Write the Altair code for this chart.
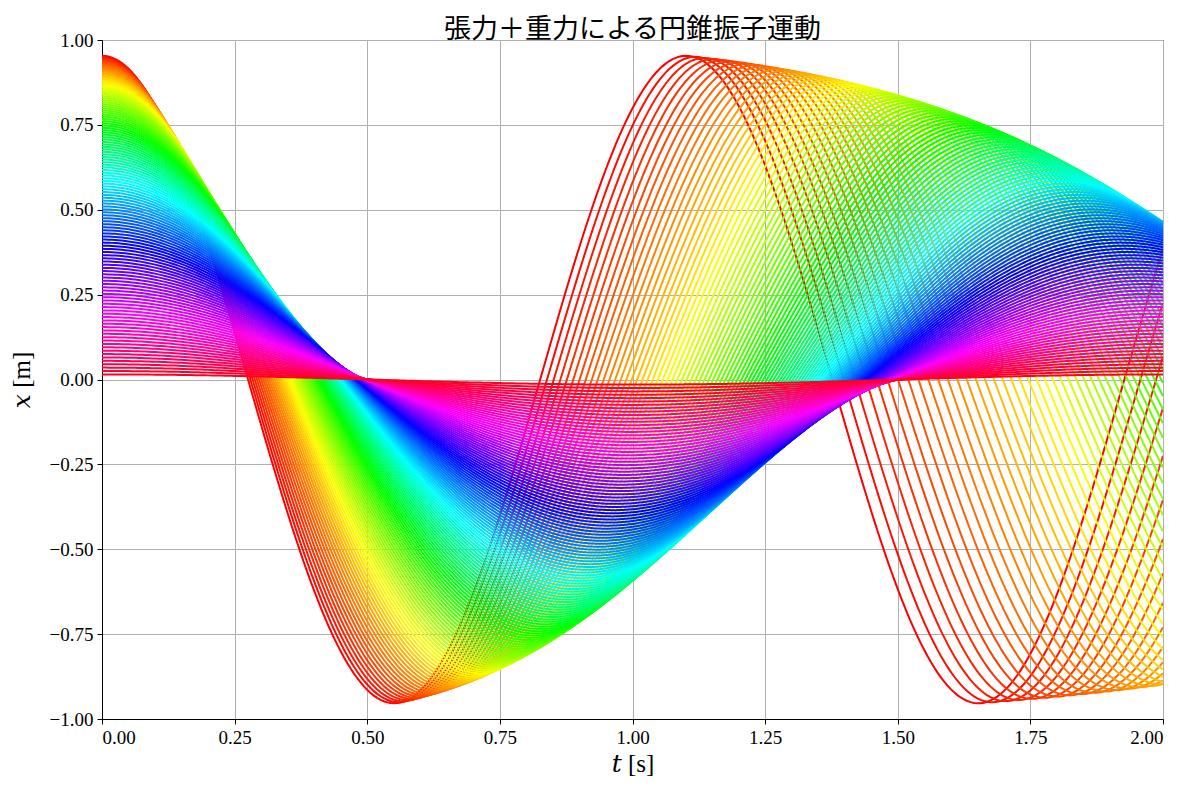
import numpy as np
import pandas as pd
import altair as alt

alt.data_transformers.disable_max_rows()

# Release angles of the conical pendulums (radians)
release_angles_rad = [
    1.265, 1.255, 1.245, 1.235, 1.225, 1.215, 1.205, 1.195, 1.185, 1.175,
    1.165, 1.155, 1.145, 1.135, 1.125, 1.115, 1.105, 1.095, 1.085, 1.075,
    1.065, 1.055, 1.045, 1.035, 1.025, 1.015, 1.005, 0.995, 0.985, 0.975,
    0.965, 0.955, 0.945, 0.935, 0.925, 0.915, 0.905, 0.895, 0.885, 0.875,
    0.865, 0.855, 0.845, 0.835, 0.825, 0.815, 0.805, 0.795, 0.785, 0.775,
    0.765, 0.755, 0.745, 0.735, 0.725, 0.715, 0.705, 0.695, 0.685, 0.675,
    0.665, 0.655, 0.645, 0.635, 0.625, 0.615, 0.605, 0.595, 0.585, 0.575,
    0.565, 0.555, 0.545, 0.535, 0.525, 0.515, 0.505, 0.495, 0.485, 0.475,
    0.465, 0.455, 0.445, 0.435, 0.425, 0.415, 0.405, 0.395, 0.385, 0.375,
    0.365, 0.355, 0.345, 0.335, 0.325, 0.315, 0.305, 0.295, 0.285, 0.275,
    0.265, 0.255, 0.245, 0.235, 0.225, 0.215, 0.205, 0.195, 0.185, 0.175,
    0.165, 0.155, 0.145, 0.135, 0.125, 0.115, 0.105, 0.095, 0.085, 0.075,
    0.065, 0.055, 0.045, 0.035, 0.025, 0.015,
]
gravity = 9.8          # m/s^2
string_length = 1.0    # m
time_range = [0.0, 2.0]
n_time_samples = 321

x_tick_values = [0.0, 0.25, 0.5, 0.75, 1.0, 1.25, 1.5, 1.75, 2.0]
y_tick_values = [-1.0, -0.75, -0.5, -0.25, 0.0, 0.25, 0.5, 0.75, 1.0]
title_text = "張力＋重力による円錐振子運動"
x_title = "𝑡 [s]"
y_title = "𝑥 [m]"

# matplotlib "hsv" colormap segment nodes
hsv_red = [(0.0, 1.0), (0.158730, 1.0), (0.174603, 0.96875), (0.333333, 0.03125),
           (0.349206, 0.0), (0.666667, 0.0), (0.682540, 0.03125), (0.841270, 0.96875),
           (0.857143, 1.0), (1.0, 1.0)]
hsv_green = [(0.0, 0.0), (0.158730, 0.9375), (0.174603, 1.0), (0.507937, 1.0),
             (0.666667, 0.0625), (0.682540, 0.0), (1.0, 0.0)]
hsv_blue = [(0.0, 0.0), (0.333333, 0.0), (0.349206, 0.0625), (0.507937, 1.0),
            (0.841270, 1.0), (0.857143, 0.9375), (1.0, 0.09375)]


def channel(nodes, v):
    xs, ys = zip(*nodes)
    return float(np.interp(v, xs, ys))


def hsv_hex(v):
    r, g, b = (channel(hsv_red, v), channel(hsv_green, v), channel(hsv_blue, v))
    return "#%02x%02x%02x" % (round(r * 255), round(g * 255), round(b * 255))


n_curves = len(release_angles_rad)
curve_ids = list(range(n_curves))
curve_colors = [hsv_hex(i / n_curves) for i in curve_ids]

t = np.linspace(time_range[0], time_range[1], n_time_samples)
frames = []
for i, th in enumerate(release_angles_rad):
    radius = string_length * np.sin(th)
    omega = np.sqrt(gravity / (string_length * np.cos(th)))
    frames.append(pd.DataFrame({
        "i": i,
        "t": np.round(t, 5),
        "x": np.round(radius * np.cos(omega * t), 5),
    }))
df = pd.concat(frames, ignore_index=True)

serif = "'Liberation Serif', 'DejaVu Serif', serif"

chart = (
    alt.Chart(df)
    .mark_line(strokeWidth=2, clip=True)
    .encode(
        x=alt.X(
            "t:Q",
            scale=alt.Scale(domain=time_range, nice=False, zero=False),
            axis=alt.Axis(values=x_tick_values, format=".2f", title=x_title,
                          titlePadding=4),
        ),
        y=alt.Y(
            "x:Q",
            scale=alt.Scale(domain=[-1.0, 1.0], nice=False, zero=False),
            axis=alt.Axis(values=y_tick_values, format=".2f", title=y_title,
                          titlePadding=15),
        ),
        color=alt.Color("i:O", scale=alt.Scale(domain=curve_ids, range=curve_colors),
                        legend=None),
    )
    .properties(
        width=1061,
        height=679,
        title=alt.Title(title_text, font="Noto Sans CJK JP", fontSize=27,
                        fontWeight="normal", color="black", offset=4, dy=17),
        autosize="none",
        padding={"left": 94, "top": 32, "right": 20, "bottom": 75},
    )
    .configure_view(stroke="black", strokeWidth=1)
    .configure_axis(
        domainColor="black",
        domainWidth=1,
        tickColor="black",
        tickSize=5,
        tickWidth=1,
        grid=True,
        gridColor="#b0b0b0",
        gridWidth=1,
        labelFont=serif,
        labelFontSize=19,
        labelColor="black",
        labelPadding=4,
        titleFont=serif,
        titleFontSize=25,
        titleFontWeight="normal",
        titleColor="black",
    )
)

chart.save("out.html", embed_options={"renderer": "svg", "actions": False})
